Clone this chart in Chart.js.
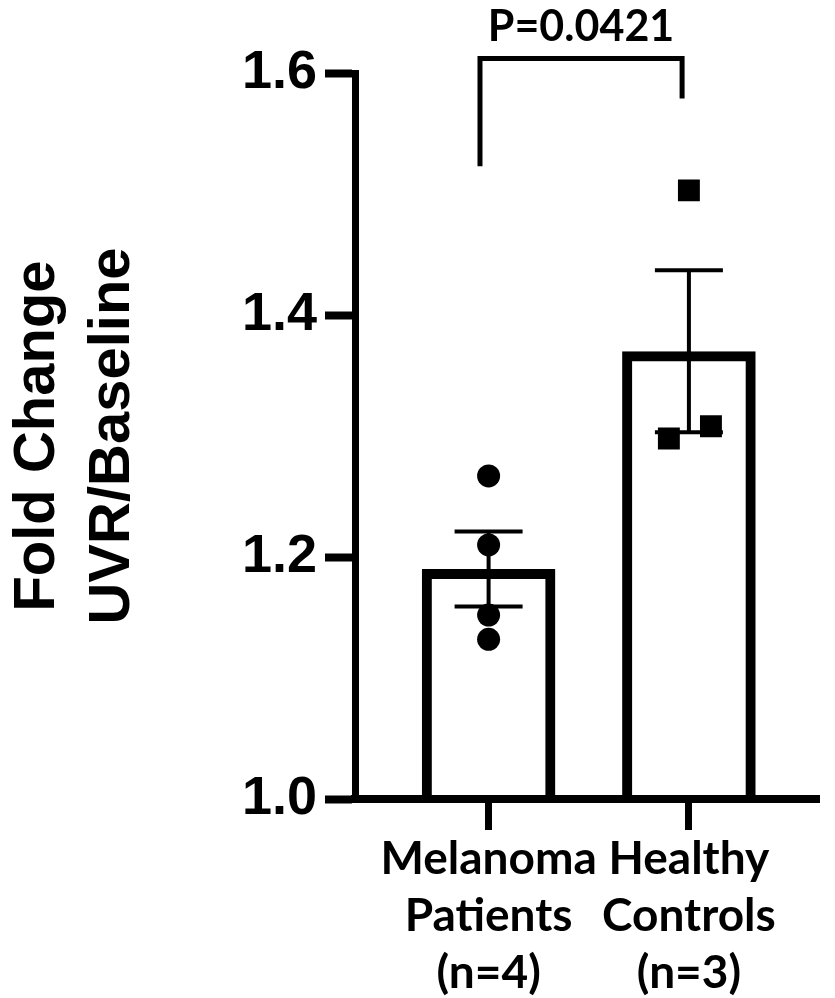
<!DOCTYPE html>
<html lang="en">
<head>
  <meta charset="UTF-8" />
  <title>Fold Change UVR/Baseline</title>
  <script src="https://cdn.jsdelivr.net/npm/chart.js"></script>
</head>
<body style="margin: 0; padding: 0; background-color: white;">

<div style="width: 835px; height: 998px;">
  <canvas id="barChart"></canvas>
</div>

<script>
  // groups on the x axis (one label line per entry)
  const groupLabels = [['Melanoma', 'Patients', '(n=4)'], ['Healthy', 'Controls', '(n=3)']];
  const groupMeans = [1.190, 1.370];
  const groupSem = [0.031, 0.067];

  // individual values
  const melanomaValues = [1.267, 1.210, 1.152, 1.132];
  const healthyValues = [1.503, 1.298, 1.308];
  const healthyJitter = [0, -0.10, 0.11];

  const yTicks = [1.0, 1.2, 1.4, 1.6];
  const yTitle = ['Fold Change', 'UVR/Baseline'];
  const pLabel = 'P=0.0421';

  const ctx = document.getElementById('barChart').getContext('2d');

  // error bars + significance bracket
  const extras = {
    id: 'extras',
    afterDatasetsDraw(chart) {
      const x = chart.scales.x, y = chart.scales.y, c = chart.ctx;
      c.save();
      c.strokeStyle = 'black';
      c.lineWidth = 4;
      groupMeans.forEach((m, i) => {
        const px = x.getPixelForValue(i);
        const top = y.getPixelForValue(m + groupSem[i]);
        const bot = y.getPixelForValue(m - groupSem[i]);
        c.beginPath();
        c.moveTo(px, top); c.lineTo(px, bot);
        c.moveTo(px - 34, top); c.lineTo(px + 34, top);
        c.moveTo(px - 34, bot); c.lineTo(px + 34, bot);
        c.stroke();
      });

      const bx1 = x.getPixelForValue(-0.043), bx2 = x.getPixelForValue(0.966);
      const by = y.getPixelForValue(1.612);
      c.lineWidth = 5;
      c.beginPath();
      c.moveTo(bx1, y.getPixelForValue(1.523));
      c.lineTo(bx1, by);
      c.lineTo(bx2, by);
      c.lineTo(bx2, y.getPixelForValue(1.579));
      c.stroke();

      c.fillStyle = 'black';
      c.font = 'bold 43px Lato';
      c.textAlign = 'center';
      c.textBaseline = 'alphabetic';
      c.fillText(pLabel, (bx1 + bx2) / 2, by - 17);
      c.restore();
    }
  };

  const barChart = new Chart(ctx, {
    type: 'bar',
    data: {
      datasets: [
        {
          type: 'scatter',
          data: melanomaValues.map(v => ({ x: 0, y: v })),
          pointStyle: 'circle',
          pointRadius: 11.5,
          backgroundColor: 'black',
          borderWidth: 0
        },
        {
          type: 'scatter',
          data: healthyValues.map((v, i) => ({ x: 1 + healthyJitter[i], y: v })),
          pointStyle: 'rect',
          pointRadius: 15.5,
          backgroundColor: 'black',
          borderWidth: 0
        },
        {
          data: groupMeans.map((v, i) => ({ x: i, y: v })),
          backgroundColor: 'rgba(0,0,0,0)',
          borderColor: 'black',
          borderWidth: 10,
          barPercentage: 0.667,
          categoryPercentage: 1
        }
      ]
    },
    options: {
      responsive: true,
      maintainAspectRatio: false,
      animation: false,
      layout: { padding: { top: 73, right: 0, bottom: 0, left: 0 } },
      plugins: {
        legend: { display: false },
        tooltip: { enabled: false }
      },
      scales: {
        x: {
          type: 'linear',
          min: -0.667,
          max: 1.652,
          offset: false,
          afterBuildTicks: s => { s.ticks = groupLabels.map((l, i) => ({ value: i })); },
          afterFit: s => { s.height = 199; },
          ticks: {
            autoSkip: false,
            maxRotation: 0,
            color: 'black',
            padding: 1,
            font: { family: 'Lato', weight: 'bold', size: 46, lineHeight: 1.24 },
            callback: v => groupLabels[v]
          },
          grid: { offset: false, drawOnChartArea: false, drawTicks: true, tickLength: 31, tickWidth: 7, tickColor: 'black' },
          border: { display: true, color: 'black', width: 8 }
        },
        y: {
          min: 1.0,
          max: 1.6,
          afterBuildTicks: s => { s.ticks = yTicks.map(v => ({ value: v })); },
          afterFit: s => { s.width = 355; },
          ticks: {
            color: 'black',
            padding: 8,
            font: { family: 'Liberation Sans', weight: 'bold', size: 54 },
            callback: v => v.toFixed(1)
          },
          grid: { drawOnChartArea: false, drawTicks: true, tickLength: 30, tickWidth: 8, tickColor: 'black' },
          border: { display: true, color: 'black', width: 7 },
          title: {
            display: true,
            text: yTitle,
            color: 'black',
            padding: { top: 0, bottom: 0 },
            font: { family: 'Liberation Sans', weight: 'bold', size: 58, lineHeight: 1.3 }
          }
        }
      }
    },
    plugins: [extras]
  });
</script>
</body>
</html>
